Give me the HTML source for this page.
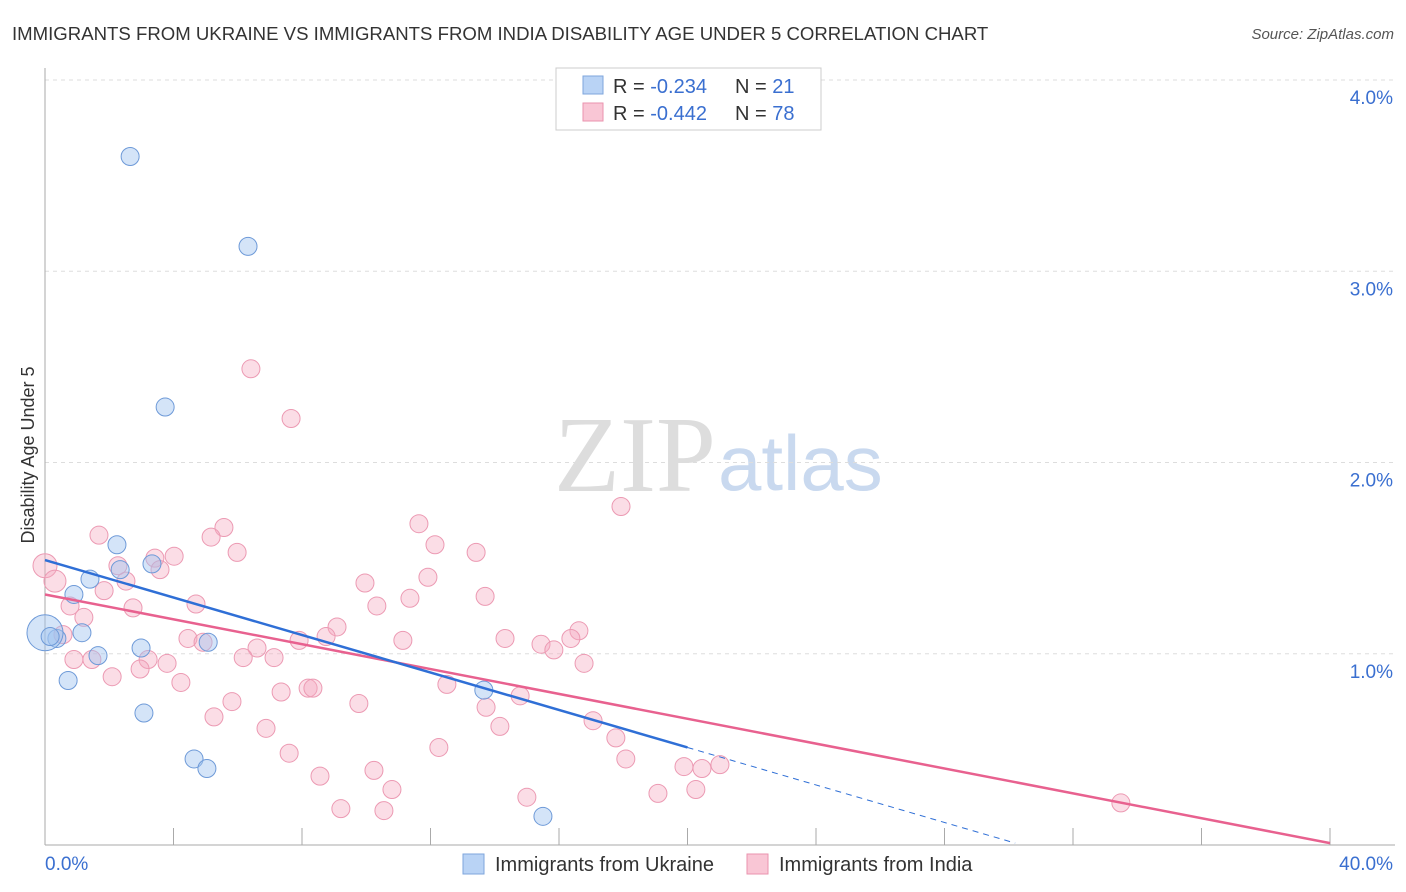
<!DOCTYPE html>
<html><head><meta charset="utf-8"><style>
body{margin:0;background:#fff;font-family:"Liberation Sans",sans-serif}
#c{position:absolute;left:0;top:0}
</style></head><body>
<svg id="c" width="1406" height="892">
<text x="12" y="40" font-size="18.6" fill="#333">IMMIGRANTS FROM UKRAINE VS IMMIGRANTS FROM INDIA DISABILITY AGE UNDER 5 CORRELATION CHART</text>
<text x="1394" y="39" font-size="15" fill="#555" font-style="italic" text-anchor="end">Source: ZipAtlas.com</text>
<text x="716" y="491" font-size="108" fill="#ddd" font-family="Liberation Serif,serif" text-anchor="end">ZIP</text>
<text x="718" y="490" font-size="78" fill="#c9d9ef">atlas</text>
<g id="grid"></g><g id="axes"></g><g id="pts"></g><g id="lines"></g>
<text transform="translate(34,455) rotate(-90)" font-size="18" fill="#333" text-anchor="middle">Disability Age Under 5</text>
<g>
<rect x="556" y="68" width="265" height="62" fill="#fff" stroke="#ccc"/>
<rect x="583" y="76" width="20" height="18" fill="#b9d3f5" stroke="#7ea6dc"/>
<rect x="583" y="103" width="20" height="18" fill="#f9c6d5" stroke="#ea93ae"/>
<text x="613" y="93" font-size="20" fill="#333">R = <tspan fill="#3a6fd0">-0.234</tspan></text>
<text x="735" y="93" font-size="20" fill="#333">N = <tspan fill="#3a6fd0"> 21</tspan></text>
<text x="613" y="120" font-size="20" fill="#333">R = <tspan fill="#3a6fd0">-0.442</tspan></text>
<text x="735" y="120" font-size="20" fill="#333">N = <tspan fill="#3a6fd0">78</tspan></text>
</g>
<g>
<rect x="463" y="854" width="21" height="20" fill="#b9d3f5" stroke="#7ea6dc"/>
<text x="495" y="871" font-size="20" fill="#333">Immigrants from Ukraine</text>
<rect x="747" y="854" width="21" height="20" fill="#f9c6d5" stroke="#ea93ae"/>
<text x="779" y="871" font-size="20" fill="#333">Immigrants from India</text>
</g>
</svg>
<script>
const yTicks=[1,2,3,4];
const xTickLabels=["0.0%","40.0%"];
const ukraineX=[2.65,6.32,3.74,2.24,3.33,1.40,0.90,1.15,0.37,0.0,2.99,5.08,1.65,0.72,3.08,4.64,5.04,13.66,15.50,2.34,0.16];
const ukraineY=[3.60,3.13,2.29,1.57,1.47,1.39,1.31,1.11,1.08,1.11,1.03,1.06,0.99,0.86,0.69,0.45,0.40,0.81,0.15,1.44,1.09];
const ukraineR=[9,9,9,9,9,9,9,9,9,18,9,9,9,9,9,9,9,9,9,9,9];
const indiaX=[6.41,7.66,17.93,11.64,5.57,1.68,5.17,12.14,13.42,5.98,3.42,4.02,0.0,0.31,2.27,3.58,2.52,9.96,11.92,1.84,13.70,11.36,4.70,10.33,0.78,2.74,1.21,9.09,16.62,0.56,7.91,8.75,14.32,11.14,16.37,4.45,15.44,4.92,6.60,15.84,6.17,7.13,1.46,0.90,3.21,3.80,16.78,2.96,2.09,4.23,12.51,8.19,7.35,8.34,14.79,9.77,5.82,13.73,5.26,17.06,6.88,14.16,17.77,12.26,7.60,18.08,19.89,20.45,21.01,8.56,10.24,10.80,20.26,19.08,15.00,33.49,9.21,10.55];
const indiaY=[2.49,2.23,1.77,1.68,1.66,1.62,1.61,1.57,1.53,1.53,1.50,1.51,1.46,1.38,1.46,1.44,1.38,1.37,1.40,1.33,1.30,1.29,1.26,1.25,1.25,1.24,1.19,1.14,1.12,1.10,1.07,1.09,1.08,1.07,1.08,1.08,1.05,1.06,1.03,1.02,0.98,0.98,0.97,0.97,0.97,0.95,0.95,0.92,0.88,0.85,0.84,0.82,0.80,0.82,0.78,0.74,0.75,0.72,0.67,0.65,0.61,0.62,0.56,0.51,0.48,0.45,0.41,0.40,0.42,0.36,0.39,0.29,0.29,0.27,0.25,0.22,0.19,0.18];
const indiaR=[9,9,9,9,9,9,9,9,9,9,9,9,12,11,9,9,9,9,9,9,9,9,9,9,9,9,9,9,9,9,9,9,9,9,9,9,9,9,9,9,9,9,9,9,9,9,9,9,9,9,9,9,9,9,9,9,9,9,9,9,9,9,9,9,9,9,9,9,9,9,9,9,9,9,9,9,9,9];
const ukraineLine=[[0,1.49],[20,0.51]],ukraineDash=[[20,0.51],[30.2,0.01]];
const indiaLine=[[0,1.31],[40,0.01]];
const NS='http://www.w3.org/2000/svg';
const X=v=>45+v/40*1285, Y=v=>845-v*191.25;
function mk(t,a,p){const e=document.createElementNS(NS,t);for(const k in a)e.setAttribute(k,a[k]);document.getElementById(p).appendChild(e);return e;}
yTicks.forEach(t=>{const g=mk('line',{x1:45,x2:1395,y1:Y(t),y2:Y(t),stroke:'#ddd','stroke-dasharray':'4,4'},'grid');


const l=mk('text',{x:1393,y:Y(t)+24,'font-size':19,fill:'#3a6fd0','text-anchor':'end'},'axes');l.textContent=t.toFixed(1)+'%';

});
let ax=mk('line',{x1:45,x2:45,y1:68,y2:845,stroke:'#aaa'},'axes');


ax=mk('line',{x1:45,x2:1395,y1:845,y2:845,stroke:'#aaa'},'axes');


for(let i=1;i<=10;i++){const t=mk('line',{x1:X(i*4),x2:X(i*4),y1:828,y2:845,stroke:'#aaa'},'axes');

}
[[45,'start',0],[1393,'end',1]].forEach(([x,a,i])=>{const l=mk('text',{x:x,y:870,'font-size':19,fill:'#3a6fd0','text-anchor':a},'axes');l.textContent=xTickLabels[i];

});
indiaX.forEach((v,i)=>{const c=mk('circle',{cx:X(v),cy:Y(indiaY[i]),r:indiaR[i],fill:'rgba(246,170,192,0.4)',stroke:'#ec9ab3','stroke-width':1},'pts');

});
ukraineX.forEach((v,i)=>{const c=mk('circle',{cx:X(v),cy:Y(ukraineY[i]),r:ukraineR[i],fill:'rgba(160,195,240,0.45)',stroke:'#6e9ad8','stroke-width':1},'pts');

});
let ln=mk('line',{x1:X(indiaLine[0][0]),y1:Y(indiaLine[0][1]),x2:X(indiaLine[1][0]),y2:Y(indiaLine[1][1]),stroke:'#e8618f','stroke-width':2.5},'lines');


ln=mk('line',{x1:X(ukraineLine[0][0]),y1:Y(ukraineLine[0][1]),x2:X(ukraineLine[1][0]),y2:Y(ukraineLine[1][1]),stroke:'#2f6fd6','stroke-width':2.5},'lines');


ln=mk('line',{x1:X(ukraineDash[0][0]),y1:Y(ukraineDash[0][1]),x2:X(ukraineDash[1][0]),y2:Y(ukraineDash[1][1]),stroke:'#2f6fd6','stroke-width':1,'stroke-dasharray':'6,5'},'lines');


</script>
</body></html>
